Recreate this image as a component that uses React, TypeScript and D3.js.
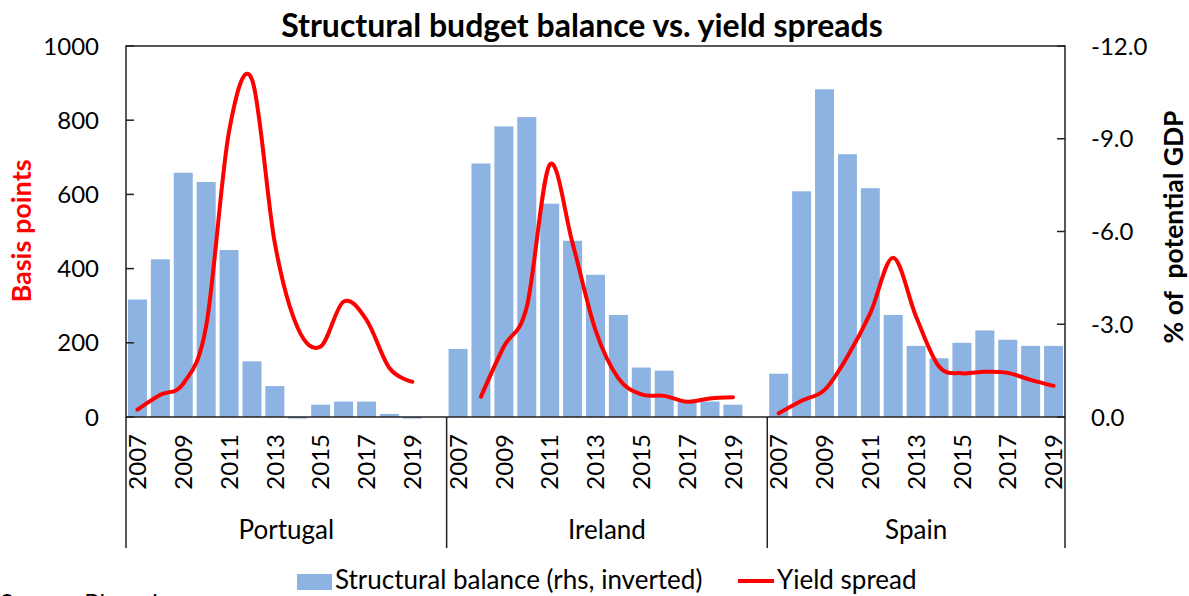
import React from "react";
import * as d3 from "d3";

const years = ["2007","2008","2009","2010","2011","2012","2013","2014","2015","2016","2017","2018","2019"];
const countries = ["Portugal", "Ireland", "Spain"];

// Structural balance, % of potential GDP (plotted on inverted right axis)
const portugalBalance = [-3.8, -5.1, -7.9, -7.6, -5.4, -1.8, -1.0, 0.05, -0.4, -0.5, -0.5, -0.1, 0.05];
const irelandBalance = [-2.2, -8.2, -9.4, -9.7, -6.9, -5.7, -4.6, -3.3, -1.6, -1.5, -0.5, -0.5, -0.4];
const spainBalance = [-1.4, -7.3, -10.6, -8.5, -7.4, -3.3, -2.3, -1.9, -2.4, -2.8, -2.5, -2.3, -2.3];

// Yield spread, basis points (left axis)
const portugalSpread = [20, 60, 90, 245, 770, 910, 468, 240, 190, 311, 262, 132, 95];
const irelandSpread = [null, 55, 190, 297, 680, 468, 234, 104, 61, 57, 41, 50, 53];
const spainSpread = [10, 44, 73, 163, 280, 429, 270, 136, 118, 122, 119, 100, 84];

const leftTicks = [0, 200, 400, 600, 800, 1000];
const rightTicks = [0, -3, -6, -9, -12];

const balances = [portugalBalance, irelandBalance, spainBalance];
const spreads = [portugalSpread, irelandSpread, spainSpread];

const W = 1189, H = 596;
const plotL = 126, plotR = 1065, plotT = 46, plotB = 417;
const FONT = "Lato, 'Open Sans', sans-serif";
const BAR = "#8DB3E2";
const RED = "#FF0000";

type Cat = { key: string; country: string; year: string | null; ci: number; yi: number };

const cats: Cat[] = [];
countries.forEach((c, ci) => {
  years.forEach((y, yi) => cats.push({ key: `${c}|${y}`, country: c, year: y, ci, yi }));
  if (ci < countries.length - 1) cats.push({ key: `${c}|blank`, country: c, year: null, ci, yi: -1 });
});

export default function App() {
  const x = d3.scaleBand<string>()
    .domain(cats.map((d) => d.key))
    .range([plotL, plotR])
    .paddingInner(0.17)
    .paddingOuter(0.085);
  const yL = d3.scaleLinear().domain([0, 1000]).range([plotB, plotT]);
  const yR = d3.scaleLinear().domain([0, -12]).range([plotB, plotT]);
  const cx = (k: string) => (x(k) as number) + x.bandwidth() / 2;
  const step = x.step();

  const line = d3.line<{ k: string; v: number }>()
    .x((d) => cx(d.k))
    .y((d) => yL(d.v))
    .curve(d3.curveCardinal.tension(0));

  // group boundaries
  const groupEdges: number[] = [plotL];
  countries.forEach((c, ci) => {
    const groupCats = cats.filter((d) => d.ci === ci);
    const last = groupCats[groupCats.length - 1];
    groupEdges.push(ci === countries.length - 1 ? plotR : (x(last.key) as number) - (step - x.bandwidth()) / 2 + step);
  });

  return (
    <svg width={W} height={H} style={{ position: "absolute", left: 0, top: 0, background: "#fff" }} fontFamily={FONT}>
      {/* Title */}
      <text x={582} y={37} textAnchor="middle" fontSize={32} fontWeight={700} fill="#000">
        Structural budget balance vs. yield spreads
      </text>

      {/* Bars */}
      {cats.filter((d) => d.year !== null).map((d) => {
        const v = balances[d.ci][d.yi];
        const y0 = yR(0), y1 = yR(v);
        return (
          <rect key={d.key} x={x(d.key)} y={Math.min(y0, y1)} width={x.bandwidth()} height={Math.max(1.5, Math.abs(y1 - y0))} fill={BAR} />
        );
      })}

      {/* Lines */}
      {countries.map((c, ci) => {
        const pts = years
          .map((y, yi) => ({ k: `${c}|${y}`, v: spreads[ci][yi] as number | null }))
          .filter((p) => p.v !== null) as { k: string; v: number }[];
        return <path key={c} d={line(pts) || ""} fill="none" stroke={RED} strokeWidth={4} strokeLinejoin="round" strokeLinecap="round" />;
      })}

      {/* Plot frame */}
      <rect x={plotL} y={plotT} width={plotR - plotL} height={plotB - plotT} fill="none" stroke="#222" strokeWidth={1.5} />

      {/* Left axis ticks + labels */}
      {leftTicks.map((t) => (
        <g key={`l${t}`}>
          <line x1={plotL} x2={plotL + 8} y1={yL(t)} y2={yL(t)} stroke="#222" strokeWidth={1.5} />
          <text x={99} y={yL(t)} dy="0.36em" textAnchor="end" fontSize={24} fill="#000">{t}</text>
        </g>
      ))}

      {/* Right axis ticks + labels */}
      {rightTicks.map((t) => (
        <g key={`r${t}`}>
          <line x1={plotR - 8} x2={plotR} y1={yR(t)} y2={yR(t)} stroke="#222" strokeWidth={1.5} />
          <text x={1091} y={yR(t)} dy="0.36em" textAnchor="start" fontSize={24} fill="#000">{t.toFixed(1)}</text>
        </g>
      ))}

      {/* Axis titles */}
      <text transform={`translate(31,231) rotate(-90)`} textAnchor="middle" fontSize={27} fontWeight={700} fill={RED}>Basis points</text>
      <text transform={`translate(1183,227) rotate(-90)`} textAnchor="middle" fontSize={26.5} fontWeight={700} fill="#000" style={{ whiteSpace: "pre" }}>{"% of  potential GDP"}</text>

      {/* Year labels */}
      {cats.map((d, i) => (i % 2 === 0 && d.year ? (
        <text key={`y${d.key}`} transform={`translate(${cx(d.key)},434) rotate(-90)`} dy="0.36em" textAnchor="end" fontSize={24} fill="#000">{d.year}</text>
      ) : null))}

      {/* Group separators and labels */}
      {groupEdges.map((gx, i) => (
        <line key={`g${i}`} x1={gx} x2={gx} y1={plotB} y2={548} stroke="#222" strokeWidth={1.5} />
      ))}
      {countries.map((c, ci) => (
        <text key={`c${c}`} x={(groupEdges[ci] + groupEdges[ci + 1]) / 2} y={539} textAnchor="middle" fontSize={26} fill="#000">{c}</text>
      ))}

      {/* Legend */}
      <rect x={297} y={574} width={35} height={16} fill={BAR} />
      <text x={335} y={589} fontSize={26} fill="#000">Structural balance (rhs, inverted)</text>
      <line x1={738} x2={774} y1={581} y2={581} stroke={RED} strokeWidth={4} />
      <text x={777} y={589} fontSize={26} fill="#000">Yield spread</text>

      {/* Source (cut off at bottom, as in the original) */}
      <text x={0} y={611} fontSize={24} fill="#000">Source: Bloomberg</text>
    </svg>
  );
}
